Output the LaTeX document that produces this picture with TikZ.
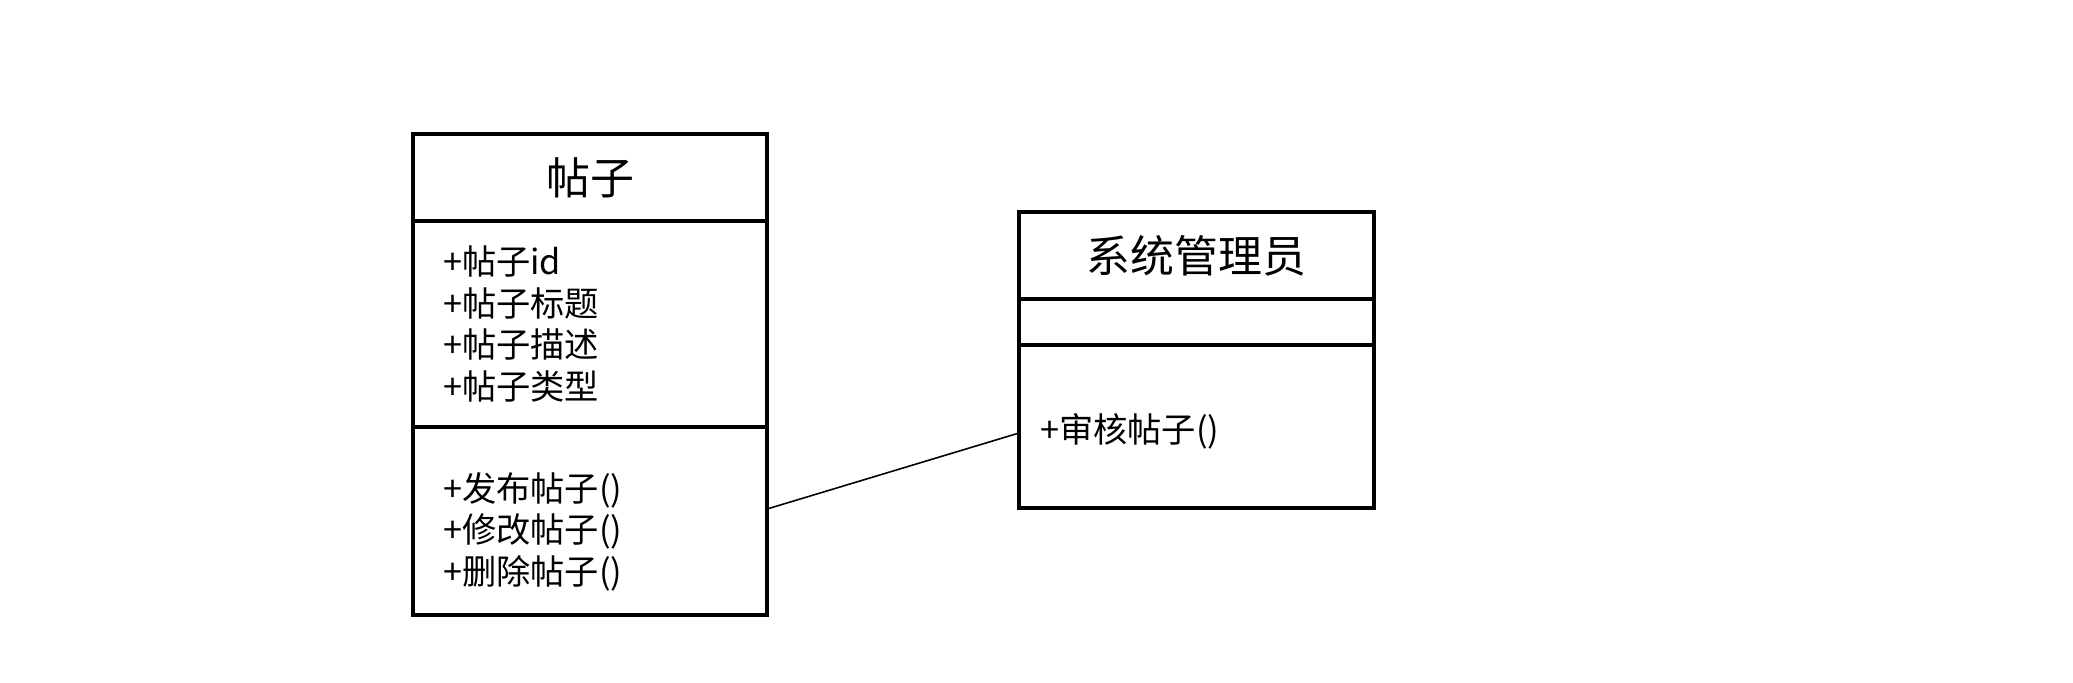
\documentclass[tikz,border=0pt]{standalone}
\usepackage{fontspec}
\setmainfont{Noto Sans CJK SC}
\begin{document}
\begin{tikzpicture}[line width=2.2pt,
  part/.style={draw, anchor=north west, inner ysep=0pt, outer sep=0pt, align=left},
  head/.style={part, align=center, font=\fontsize{25}{29}\selectfont},
  body/.style={part, font=\fontsize{19.5}{23.6}\selectfont},
  assoc/.style={line width=0.9pt}]

  \useasboundingbox (0,0) rectangle (41.46,-13.64);

  % class 帖子
  \node[head, text width=5.88cm, inner xsep=0.6cm, minimum height=1.74cm] (pt) at (8.26,-2.68) {帖子};
  \node[body, text width=5.88cm, inner xsep=0.6cm, minimum height=4.12cm] (pa) at (pt.south west)
    {+帖子id\\+帖子标题\\+帖子描述\\+帖子类型};
  \node[body, text width=5.88cm, inner xsep=0.6cm, minimum height=3.76cm] (pm) at (pa.south west)
    {\\[0.18cm]+发布帖子()\\+修改帖子()\\+删除帖子()};

  % class 系统管理员
  \node[head, text width=6.26cm, inner xsep=0.42cm, minimum height=1.74cm] (at) at (20.38,-4.24) {系统管理员};
  \node[body, text width=6.26cm, inner xsep=0.42cm, minimum height=0.92cm] (aa) at (at.south west) {};
  \node[body, text width=6.26cm, inner xsep=0.42cm, minimum height=3.26cm] (am) at (aa.south west)
    {\\[-0.05cm]+审核帖子()};

  \draw[assoc] ([yshift=0.24cm]pm.east) -- ([yshift=-0.13cm]am.west);

\end{tikzpicture}
\end{document}
